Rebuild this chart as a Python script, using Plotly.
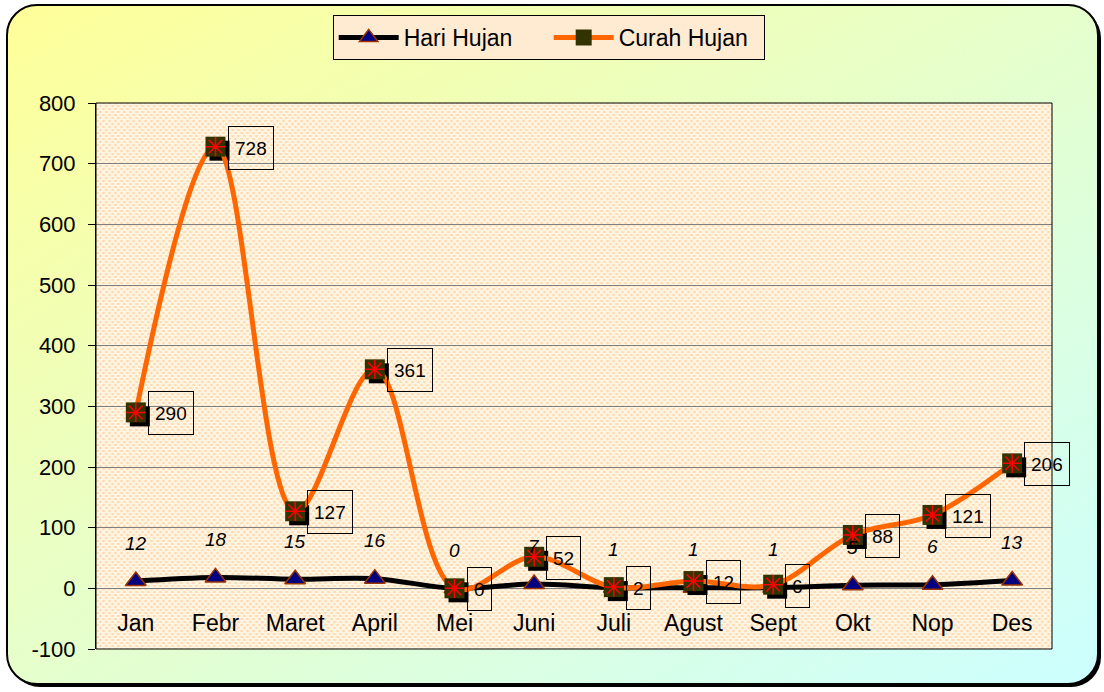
import base64
import plotly.graph_objects as go

months = ["Jan", "Febr", "Maret", "April", "Mei", "Juni", "Juli", "Agust", "Sept", "Okt", "Nop", "Des"]
hari_hujan = [12, 18, 15, 16, 0, 7, 1, 1, 1, 5, 6, 13]
curah_hujan = [290, 728, 127, 361, 0, 52, 2, 12, 6, 88, 121, 206]
y_ticks = [-100, 0, 100, 200, 300, 400, 500, 600, 700, 800]
y_tick_labels = [str(v) for v in y_ticks]

W, H = 1104, 692
L, R, T, B = 96, 52, 103, 43
PW, PH = W - L - R, H - T - B
FONT = "Liberation Sans, Arial, sans-serif"

yr = [-100, 800]
xr = [-0.5, 11.5]
# shadow offset in px converted through the axis scales
dx = 4 * (xr[1] - xr[0]) / PW
dy = 4 * (yr[1] - yr[0]) / PH

svg = f'''<svg xmlns="http://www.w3.org/2000/svg" width="{W}" height="{H}" viewBox="0 0 {W} {H}">
<defs>
<linearGradient id="g" x1="0" y1="0" x2="1" y2="1">
<stop offset="0" stop-color="#FFFF99"/><stop offset="1" stop-color="#CCFFFF"/></linearGradient>
<pattern id="p" width="6" height="6" patternUnits="userSpaceOnUse">
<rect width="6" height="6" fill="#FFF4E0"/>
<ellipse cx="1.5" cy="1" rx="1.6" ry="0.8" fill="#FFCE9C"/>
<ellipse cx="4.5" cy="4" rx="1.6" ry="0.8" fill="#FFCE9C"/>
</pattern></defs>
<rect x="10" y="8" width="1091" height="679" rx="30" fill="#000"/>
<rect x="7" y="5" width="1091" height="679" rx="30" fill="url(#g)" stroke="#000" stroke-width="2"/>
<rect x="{L}" y="{T}" width="{PW}" height="{PH}" fill="url(#p)"/>
</svg>'''
src = "data:image/svg+xml;base64," + base64.b64encode(svg.encode()).decode()

fig = go.Figure()

fig.add_trace(go.Scatter(
    x=months, y=hari_hujan, name="Hari Hujan", mode="lines+markers",
    line=dict(color="#000000", width=5, shape="spline", smoothing=1),
    marker=dict(symbol="triangle-up", size=18, color="#000080",
                line=dict(color="#993300", width=1.5)),
    xaxis="x", yaxis="y",
))

# shadow of the square markers
fig.add_trace(go.Scatter(
    x=months, y=curah_hujan, mode="markers", showlegend=False, hoverinfo="skip",
    marker=dict(symbol="square", size=20, color="#000000"),
    xaxis="x2", yaxis="y2",
))

fig.add_trace(go.Scatter(
    x=months, y=curah_hujan, name="Curah Hujan", mode="lines+markers",
    line=dict(color="#FF6600", width=5, shape="spline", smoothing=1),
    marker=dict(symbol="square", size=20, color="#333300"),
    xaxis="x3", yaxis="y3",
))
fig.add_trace(go.Scatter(
    x=months, y=curah_hujan, mode="markers", showlegend=False, hoverinfo="skip",
    marker=dict(symbol="asterisk-open", size=16, color="#FF0000",
                line=dict(color="#FF0000", width=1.5)),
    xaxis="x3", yaxis="y3",
))

annotations = []
for m, v in zip(months, hari_hujan):
    annotations.append(dict(
        x=m, y=v, xref="x", yref="y", text=str(v), showarrow=False,
        yshift=38, font=dict(family=FONT, size=19, color="#000", style="italic"),
    ))
for m, v in zip(months, curah_hujan):
    annotations.append(dict(
        x=m, y=v, xref="x", yref="y", text=str(v), showarrow=False,
        xanchor="left", yanchor="middle", xshift=12, yshift=-1,
        bordercolor="#000000", borderwidth=1, borderpad=6, height=30,
        font=dict(family=FONT, size=19, color="#000"),
    ))

fig.update_layout(
    width=W, height=H,
    margin=dict(l=L, r=R, t=T, b=B, autoexpand=False),
    paper_bgcolor="#FFFFFF",
    plot_bgcolor="rgba(0,0,0,0)",
    font=dict(family=FONT, size=22, color="#000"),
    images=[dict(source=src, xref="paper", yref="paper",
                 x=-L / PW, y=1 + T / PH, sizex=W / PW, sizey=H / PH,
                 xanchor="left", yanchor="top", sizing="stretch", layer="below")],
    xaxis=dict(type="category", categoryarray=months, range=xr,
               anchor="free", position=(0 - yr[0]) / (yr[1] - yr[0]),
               showgrid=False, showline=False, zeroline=False, ticks="",
               ticklabelstandoff=19, tickfont=dict(size=23), automargin=False),
    yaxis=dict(range=yr, tickvals=y_ticks, ticktext=y_tick_labels,
               showgrid=True, gridcolor="#7F7F7F",
               gridwidth=1, zeroline=False, showline=True, linecolor="#000",
               ticks="outside", ticklen=7, tickcolor="#000",
               ticklabelstandoff=8, tickfont=dict(size=22), automargin=False),
    xaxis2=dict(type="category", categoryarray=months, range=[xr[0] - dx, xr[1] - dx],
                overlaying="x", visible=False, anchor="y2"),
    yaxis2=dict(range=[yr[0] + dy, yr[1] + dy], overlaying="y", visible=False, anchor="x2"),
    xaxis3=dict(type="category", categoryarray=months, range=xr,
                overlaying="x", visible=False, anchor="y3"),
    yaxis3=dict(range=yr, overlaying="y", visible=False, anchor="x3"),
    legend=dict(orientation="h", xref="container", yref="container",
                x=0.497, xanchor="center", y=1 - 15 / H, yanchor="top",
                bgcolor="#FFEBD2", bordercolor="#000", borderwidth=1,
                font=dict(size=23), itemwidth=60, entrywidth=140,
                entrywidthmode="pixels"),
    shapes=[dict(type="rect", xref="paper", yref="paper", x0=0, x1=1, y0=0, y1=1,
                 line=dict(color="#000", width=1), layer="above")],
    annotations=annotations,
)

fig.write_html("out.html", config={"displayModeBar": False},
               post_script="document.body.style.margin='0px';")
